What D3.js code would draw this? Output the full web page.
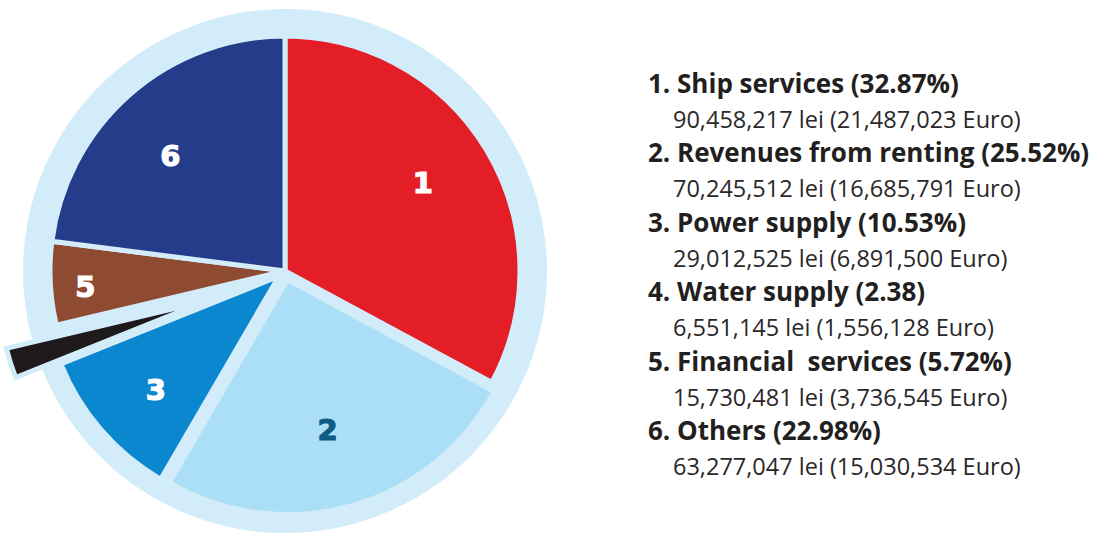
<!DOCTYPE html>
<html>
<head>
<meta charset="utf-8">
<script src="https://cdn.jsdelivr.net/npm/d3@7"></script>
<style>
  html, body { margin: 0; padding: 0; background: #ffffff; }
  svg { display: block; }
  .legend text { white-space: pre; }
</style>
</head>
<body>
<svg id="chart" width="1094" height="533"></svg>
<script>
// Revenue structure by source (share of total, %)
const categories = ["1", "2", "3", "4", "5", "6"];
const shares = [32.87, 25.52, 10.53, 2.38, 5.72, 22.98];
const titles = [
  "1. Ship services (32.87%)",
  "2. Revenues from renting (25.52%)",
  "3. Power supply (10.53%)",
  "4. Water supply (2.38)",
  "5. Financial  services (5.72%)",
  "6. Others (22.98%)"
];
const amounts = [
  "90,458,217 lei (21,487,023 Euro)",
  "70,245,512 lei (16,685,791 Euro)",
  "29,012,525 lei (6,891,500 Euro)",
  "6,551,145 lei (1,556,128 Euro)",
  "15,730,481 lei (3,736,545 Euro)",
  "63,277,047 lei (15,030,534 Euro)"
];
const colors = ["#e41e26", "#abdff8", "#0a87cf", "#1e1a1b", "#8f4a32", "#253c8b"];
const labelColors = ["#ffffff", "#0e5a85", "#ffffff", "#ffffff", "#ffffff", "#ffffff"];

const svg = d3.select("#chart");
const cx = 285, cy = 271;
const R = 235;            // slice radius
const ringR = 262;        // background disc radius
const ringColor = "#d3ecf9";

// per-slice explode distance and radius
const explode = [0, 9, 8, 82, 0, 0];
const radius = [R, R, R, 206, R, R];
// label placement: distance from the slice apex plus a small nudge
const labelR = [163, 163, 168, 0, 200, 163];
const labelShift = [[-2, -4], [-4, -7], [4, 4], [0, 0], [0, 5], [-7, 7]];

const pie = d3.pie().sort(null).value(d => d)(shares);

const g = svg.append("g").attr("transform", `translate(${cx},${cy})`);

g.append("circle").attr("r", ringR).attr("fill", ringColor);

const slices = g.selectAll("g.slice")
  .data(pie)
  .join("g")
  .attr("class", "slice")
  .attr("transform", d => {
    const a = (d.startAngle + d.endAngle) / 2;
    const e = explode[d.index];
    const extraY = d.index === 3 ? 5 : 0;
    return `translate(${Math.sin(a) * e},${-Math.cos(a) * e + extraY})`;
  });

slices.append("path")
  .attr("d", d => d3.arc().innerRadius(0).outerRadius(radius[d.index])(d))
  .attr("fill", d => colors[d.index])
  .attr("stroke", ringColor)
  .attr("stroke-width", 5)
  .attr("stroke-linejoin", "miter");

slices.filter(d => labelR[d.index] > 0)
  .append("text")
  .attr("transform", d => {
    const a = (d.startAngle + d.endAngle) / 2;
    const x = Math.sin(a) * labelR[d.index] + labelShift[d.index][0];
    const y = -Math.cos(a) * labelR[d.index] + labelShift[d.index][1];
    return `translate(${x},${y})`;
  })
  .attr("text-anchor", "middle")
  .attr("dominant-baseline", "central")
  .attr("font-family", "DejaVu Sans")
  .attr("font-weight", "bold")
  .attr("font-size", 29)
  .attr("fill", d => labelColors[d.index])
  .attr("stroke", d => labelColors[d.index])
  .attr("stroke-width", 1.2)
  .text(d => categories[d.index]);

// legend
const legend = svg.append("g").attr("class", "legend");
const lx = 648, ly = 93, step = 69.4;
titles.forEach((t, i) => {
  legend.append("text")
    .attr("x", lx).attr("y", ly + i * step)
    .attr("font-family", "Open Sans")
    .attr("font-weight", "bold")
    .attr("font-size", 26)
    .attr("fill", "#231f20")
    .text(t);
  legend.append("text")
    .attr("x", lx + 25).attr("y", ly + 35 + i * step)
    .attr("font-family", "Open Sans")
    .attr("font-size", 23.5)
    .attr("fill", "#2b2829")
    .text(amounts[i]);
});
</script>
</body>
</html>
